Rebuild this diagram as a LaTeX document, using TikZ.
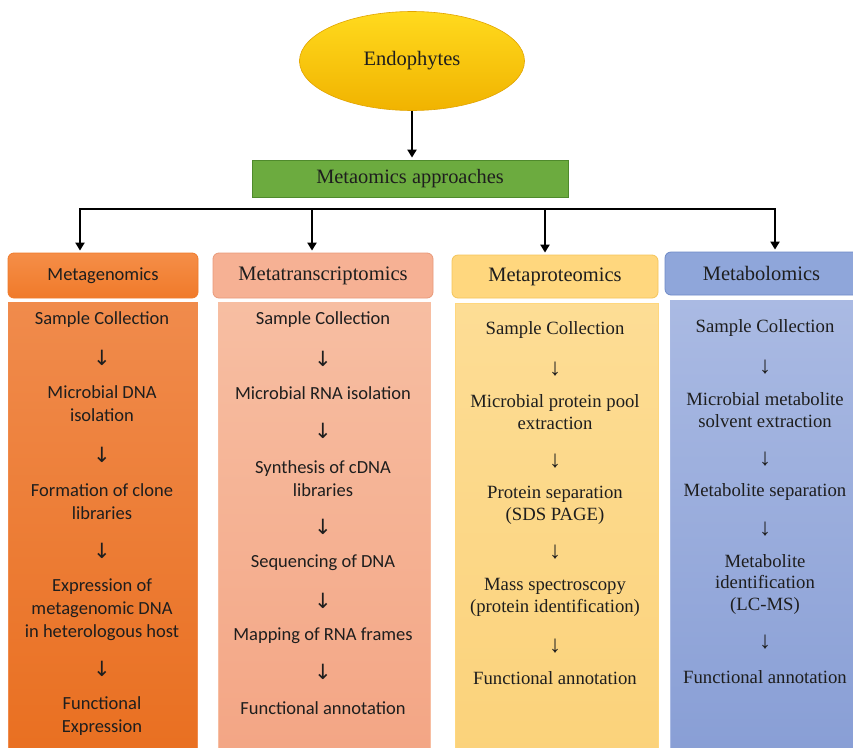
\documentclass[tikz,border=0pt]{standalone}
\usepackage{fontspec}
\setmainfont{Liberation Serif}
\newfontfamily\calib{Carlito}
\newfontfamily\arrowfont{DejaVu Sans}
\usetikzlibrary{arrows.meta,shapes.geometric}

\definecolor{goldA}{HTML}{FFDA1E}
\definecolor{goldB}{HTML}{F1B300}
\definecolor{goldL}{HTML}{E2A400}
\definecolor{leaf}{HTML}{6CAB3F}
\definecolor{leafL}{HTML}{4F8A2C}
\definecolor{orgH}{HTML}{F07A2A}
\definecolor{orgHL}{HTML}{F58E48}
\definecolor{orgT}{HTML}{F08B4C}
\definecolor{orgB}{HTML}{E96F20}
\definecolor{salH}{HTML}{F6B194}
\definecolor{salHL}{HTML}{E99A7A}
\definecolor{salT}{HTML}{F7BEA2}
\definecolor{salB}{HTML}{F3A584}
\definecolor{ylwH}{HTML}{FFD77E}
\definecolor{ylwHL}{HTML}{F4C55A}
\definecolor{ylwT}{HTML}{FDDD95}
\definecolor{ylwB}{HTML}{FBD27A}
\definecolor{bluH}{HTML}{8FA6DA}
\definecolor{bluHL}{HTML}{6E8AC7}
\definecolor{bluT}{HTML}{AABAE3}
\definecolor{bluB}{HTML}{889ED5}
\definecolor{ink}{HTML}{1E1E1E}

\tikzset{
  flow/.style={line width=2.6pt, -{Triangle[width=9pt,length=8pt]}, shorten >=2pt},
  bar/.style={line width=2.6pt, line cap=rect},
  hdr/.style={rounded corners=6pt, minimum height=45pt, inner sep=0pt, line width=0.8pt, text=ink},
  body/.style={minimum height=460pt, inner sep=0pt, line width=0.6pt},
  sanstep/.style={font=\calib\fontsize{18.5}{23}\selectfont, align=center, text=ink, inner sep=0pt},
  serstep/.style={font=\fontsize{18.7}{22}\selectfont, align=center, text=ink, inner sep=0pt},
  sanarr/.style={font=\arrowfont\fontsize{21}{21}\selectfont, text=ink, inner sep=0pt},
  serarr/.style={font=\fontsize{24}{24}\selectfont, text=ink, inner sep=0pt},
}

\begin{document}
\begin{tikzpicture}[x=1pt,y=-1pt]
\useasboundingbox (0,0) rectangle (853,747);
\clip (0,0) rectangle (853,747);
\fill[white] (0,0) rectangle (853,747);

% top of the hierarchy
\node[ellipse, minimum width=225pt, minimum height=99pt, top color=goldA, bottom color=goldB,
      draw=goldL, line width=0.6pt, font=\fontsize{20.5}{20.5}\selectfont, text=ink] (endo) at (412,61)
      {\raisebox{4pt}{Endophytes}};
\node[minimum width=316pt, minimum height=37pt, fill=leaf, draw=leafL, line width=0.8pt,
      font=\fontsize{20.4}{20.4}\selectfont, text=ink, inner sep=0pt] (meta) at (410,178.5) {Metaomics approaches};
\draw[flow] (endo.south) -- (endo.south |- meta.north);

% column headers
\node[hdr, minimum width=190pt, top color=orgHL, bottom color=orgH, draw=orgH,
      font=\calib\fontsize{18.5}{18.5}\selectfont] (h1) at (103,275.5) {Metagenomics};
\node[hdr, minimum width=220pt, fill=salH, draw=salHL,
      font=\fontsize{20.6}{20.6}\selectfont] (h2) at (323,275.5) {Metatranscriptomics};
\node[hdr, minimum width=206pt, minimum height=43pt, fill=ylwH, draw=ylwHL,
      font=\fontsize{20.5}{20.5}\selectfont] (h3) at (555,276.5) {Metaproteomics};
\node[hdr, minimum width=200pt, minimum height=43pt, fill=bluH, draw=bluHL,
      font=\fontsize{20.5}{20.5}\selectfont] (h4) at (765,273.5) {\hspace*{-7pt}Metabolomics};

% branching connector
\coordinate (c1) at (80,209);
\coordinate (c2) at (312,209);
\coordinate (c3) at (545,209);
\coordinate (c4) at (775,209);
\draw[bar] (c1) -- (c4);
\draw[flow] (c1) -- (c1 |- h1.north);
\draw[flow] (c2) -- (c2 |- h2.north);
\draw[flow] (c3) -- (c3 |- h3.north);
\draw[flow] (c4) -- (c4 |- h4.north);

% column bodies
\node[body, minimum width=189pt, top color=orgT, bottom color=orgB, draw=orgT] (b1) at (102.5,532) {};
\node[body, minimum width=212pt, top color=salT, bottom color=salB, draw=salT] (b2) at (324,532) {};
\node[body, minimum width=203pt, top color=ylwT, bottom color=ylwB, draw=ylwH] (b3) at (556.5,533) {};
\node[body, minimum width=190pt, top color=bluT, bottom color=bluB, draw=bluT] (b4) at (765,530) {};

% metagenomics steps
\node[sanstep] (s11) at (102,320) {Sample Collection};
\node[sanarr]  (a11) at (102,358) {↓};
\node[sanstep] (s12) at (102,404) {Microbial DNA\\isolation};
\node[sanarr]  (a12) at (102,455) {↓};
\node[sanstep] (s13) at (102,501.5) {Formation of clone\\libraries};
\node[sanarr]  (a13) at (102,551) {↓};
\node[sanstep] (s14) at (102,609.5) {Expression of\\metagenomic DNA\\in heterologous host};
\node[sanarr]  (a14) at (102,669) {↓};
\node[sanstep] (s15) at (102,716.5) {Functional\\Expression};

% metatranscriptomics steps
\node[sanstep] (s21) at (323,320) {Sample Collection};
\node[sanarr]  (a21) at (323,359) {↓};
\node[sanstep] (s22) at (323,393) {Microbial RNA isolation};
\node[sanarr]  (a22) at (323,431) {↓};
\node[sanstep] (s23) at (323,479) {Synthesis of cDNA\\libraries};
\node[sanarr]  (a23) at (323,527) {↓};
\node[sanstep] (s24) at (323,563) {Sequencing of DNA};
\node[sanarr]  (a24) at (323,601) {↓};
\node[sanstep] (s25) at (323,636) {Mapping of RNA frames};
\node[sanarr]  (a25) at (323,672) {↓};
\node[sanstep] (s26) at (323,708) {Functional annotation};

% metaproteomics steps
\node[serstep] (s31) at (555,330) {Sample Collection};
\node[serarr]  (a31) at (555,369) {↓};
\node[serstep] (s32) at (555,412.5) {Microbial protein pool\\extraction};
\node[serarr]  (a32) at (555,461) {↓};
\node[serstep] (s33) at (555,505) {Protein separation\\(SDS PAGE)};
\node[serarr]  (a33) at (555,552) {↓};
\node[serstep] (s34) at (555,597.5) {Mass spectroscopy\\(protein identification)};
\node[serarr]  (a34) at (555,646) {↓};
\node[serstep] (s35) at (555,678) {Functional annotation};

% metabolomics steps
\node[serstep] (s41) at (765,328) {Sample Collection};
\node[serarr]  (a41) at (765,367) {↓};
\node[serstep] (s42) at (765,410) {Microbial metabolite\\solvent extraction};
\node[serarr]  (a42) at (765,459) {↓};
\node[serstep] (s43) at (765,492) {Metabolite separation};
\node[serarr]  (a43) at (765,529) {↓};
\node[serstep, font=\fontsize{18.7}{21.5}\selectfont] (s44) at (765,584) {Metabolite\\identification\\(LC-MS)};
\node[serarr]  (a44) at (765,642) {↓};
\node[serstep] (s45) at (765,677) {Functional annotation};
\end{tikzpicture}
\end{document}
